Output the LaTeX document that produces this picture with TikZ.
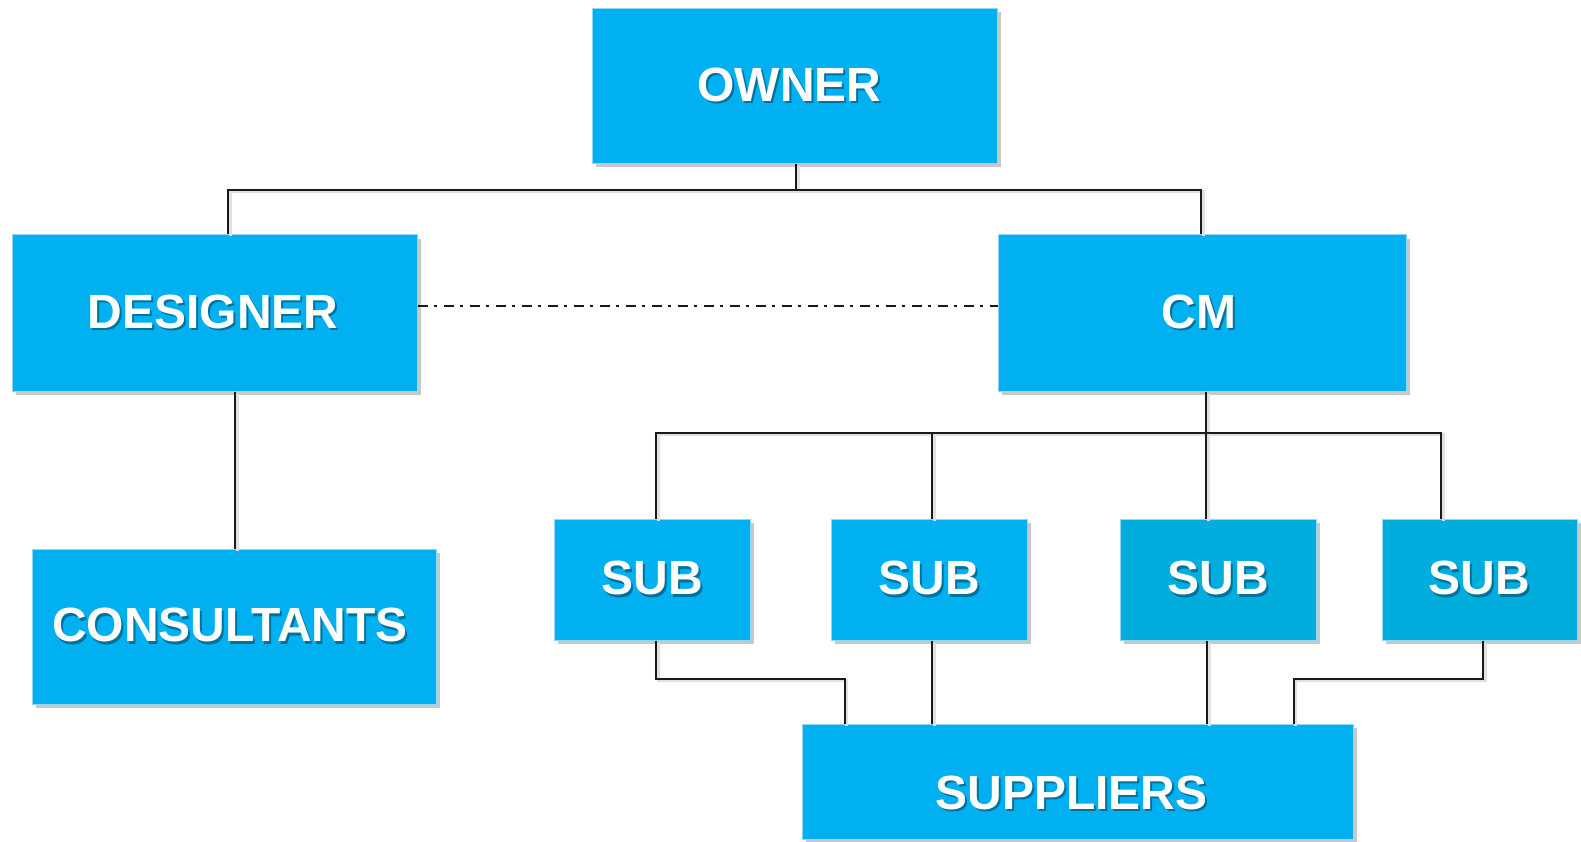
\documentclass[tikz,border=0pt]{standalone}
\usepackage{fontspec}
\setmainfont{Liberation Sans}
\usetikzlibrary{shadows,calc}
\definecolor{boxblue}{HTML}{00B0F0}
\definecolor{boxblueb}{HTML}{00ADDC}
\definecolor{boxedge}{HTML}{8FD8F5}
\newcommand{\shtxt}[1]{\makebox[0pt][l]{\hspace{2pt}\raisebox{-2.2pt}{\textcolor{black!35!boxblue}{#1}}}#1}
\tikzset{
  org/.style={rectangle, inner sep=0pt, fill=boxblue, draw=boxedge, line width=1pt,
    text=white, font=\fontsize{48}{50}\selectfont\bfseries,
    drop shadow={shadow xshift=4pt, shadow yshift=-4pt, opacity=0.3, fill=black!70}},
  bigbox/.style={org, minimum width=405pt, minimum height=155pt},
  subbox/.style={org, minimum width=196pt, minimum height=121pt},
  conn/.style={draw=black!90, line width=2pt, line join=miter,
    preaction={draw=black!12, line width=3pt, transform canvas={shift={(2pt,-2pt)}}}},
  dashdotline/.style={draw=black!90, line width=2pt, dash pattern=on 10pt off 6pt on 3pt off 7pt}
}
\begin{document}
\begin{tikzpicture}[x=1pt,y=-1pt]
\useasboundingbox[fill=white] (0,0) rectangle (1581,842);

\node[bigbox] (owner) at (794.5,86) {\hspace*{-10pt}\shtxt{OWNER}};
\node[bigbox, minimum height=156pt] (designer) at (214.5,313) {\hspace*{-3pt}\shtxt{DESIGNER}};
\node[bigbox, minimum width=408pt, minimum height=156pt] (cm) at (1202,313) {\hspace*{-6pt}\shtxt{CM}};
\node[bigbox, minimum width=404pt] (cons) at (234,626.5) {\hspace*{-8pt}\shtxt{CONSULTANTS}};
\node[subbox] (sub1) at (652,579.5) {\shtxt{SUB}};
\node[subbox] (sub2) at (929,579.5) {\shtxt{SUB}};
\node[subbox, fill=boxblueb] (sub3) at (1218,579.5) {\shtxt{SUB}};
\node[subbox, fill=boxblueb, minimum width=195pt] (sub4) at (1479.5,579.5) {\shtxt{SUB}};
\node[org, minimum width=551pt, minimum height=115pt, text height=56pt, text depth=0pt] (sup) at (1077.5,781.5) {\hspace*{-12pt}\shtxt{SUPPLIERS}};

% owner to designer and CM
\draw[conn] ([xshift=1.5pt]owner.south) -- ++(0,26) coordinate (bt) -| ([xshift=13.5pt]designer.north);
\draw[conn] (bt) -| ([xshift=-1pt]cm.north);

% designer - CM dash-dot
\draw[dashdotline] ([yshift=7pt]designer.east) -- ([yshift=7pt]cm.west);

% designer to consultants
\draw[conn] ([xshift=20.5pt]designer.south) -- ([xshift=20.5pt]designer.south |- cons.north);

% CM to subs
\draw[conn] ([xshift=4pt]cm.south) -- ++(0,41) coordinate (bs) -| ([xshift=4pt]sub1.north);
\draw[conn] (bs) -| ([xshift=-38.5pt]sub4.north);
\draw[conn] ($(bs -| sub2.north)+(3,0)$) -- ([xshift=3pt]sub2.north);
\draw[conn] (bs) -- (bs |- sub3.north);

% subs to suppliers
\draw[conn] ([xshift=4pt]sub1.south) -- ++(0,38) -| ($(sup.north west)+(43,0)$);
\draw[conn] ([xshift=3pt]sub2.south) -- ([xshift=3pt]sub2.south |- sup.north);
\draw[conn] ([xshift=-11pt]sub3.south) -- ([xshift=-11pt]sub3.south |- sup.north);
\draw[conn] ([xshift=3.5pt]sub4.south) -- ++(0,38) -| ($(sup.north east)+(-60,0)$);
\end{tikzpicture}
\end{document}
